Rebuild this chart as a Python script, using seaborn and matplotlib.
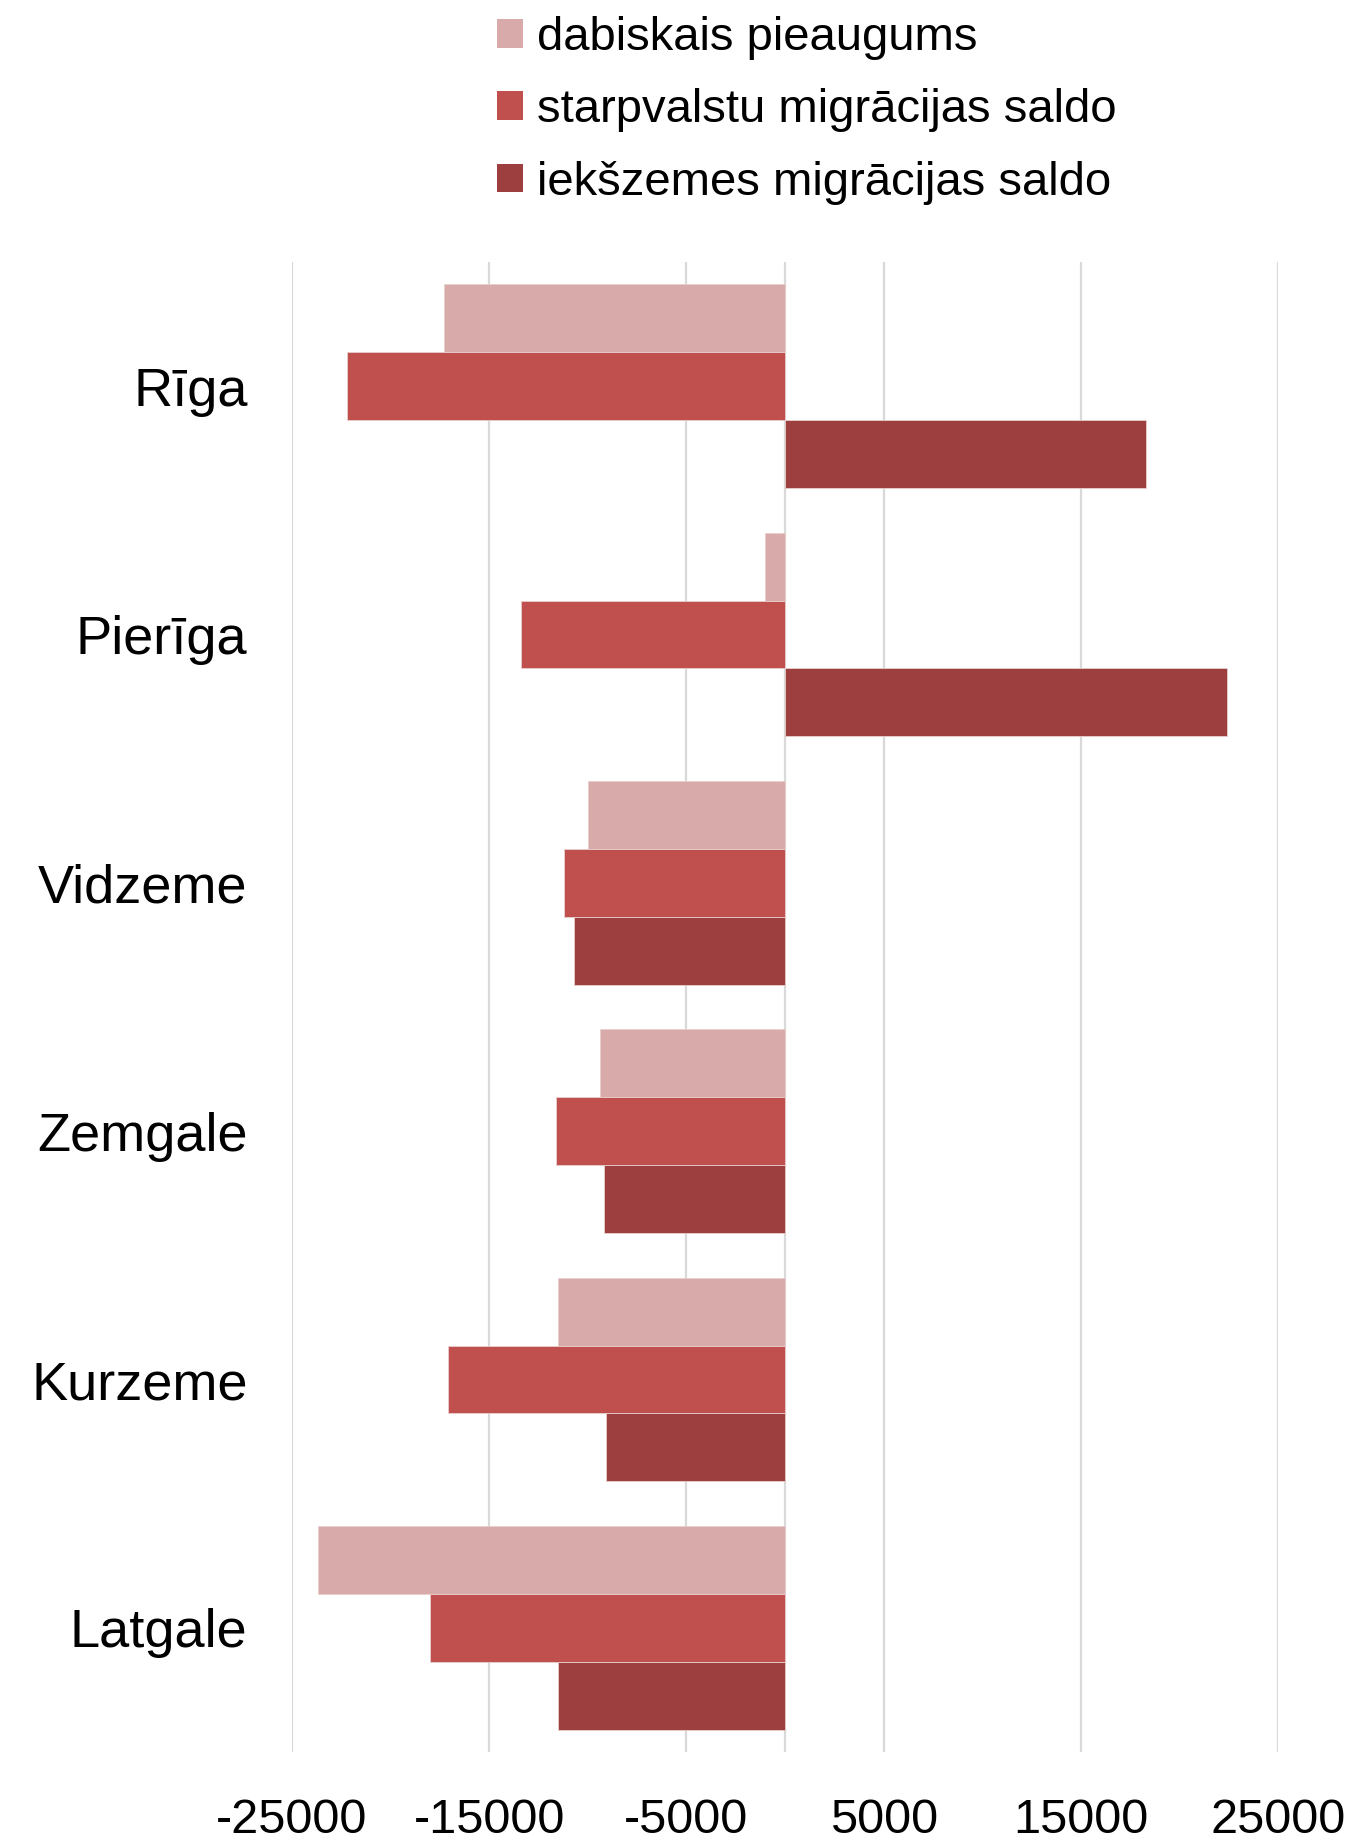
import matplotlib
matplotlib.use("Agg")
import matplotlib.pyplot as plt
import pandas as pd
import seaborn as sns
from matplotlib.patches import Patch

sns.set_theme(style="white")
plt.rcParams['font.family'] = ['Liberation Sans', 'DejaVu Sans']
plt.rcParams['axes.unicode_minus'] = False
plt.rcParams['text.color'] = 'black'
plt.rcParams['xtick.color'] = 'black'
plt.rcParams['ytick.color'] = 'black'

regions = ["Rīga", "Pierīga", "Vidzeme", "Zemgale", "Kurzeme", "Latgale"]
series = ["dabiskais pieaugums", "starpvalstu migrācijas saldo", "iekšzemes migrācijas saldo"]
dabiskais = [-17300, -1000, -10000, -9400, -11500, -23700]
starpvalstu = [-22200, -13400, -11200, -11600, -17100, -18000]
iekszemes = [18300, 22400, -10700, -9200, -9100, -11500]
xticks = [-25000, -15000, -5000, 5000, 15000, 25000]
colors = ["#D9AAAA", "#C0504D", "#9E3F3F"]

rows = []
for name, vals in zip(series, [dabiskais, starpvalstu, iekszemes]):
    for reg, v in zip(regions, vals):
        rows.append({"region": reg, "series": name, "value": v})
df = pd.DataFrame(rows)

fig = plt.figure(figsize=(13.57, 18.42), dpi=100)
ax = fig.add_axes([292 / 1357, 1 - 1752 / 1842, (1278 - 292) / 1357, (1752 - 262) / 1842])

for x in xticks + [0]:
    ax.axvline(x, color="#D9D9D9", lw=1.6, zorder=0)

sns.barplot(data=df, x="value", y="region", hue="series", order=regions,
            hue_order=series, palette=colors, orient="h", width=0.82,
            saturation=1, edgecolor="#E8CFCF", linewidth=0.6, legend=False,
            ax=ax, zorder=2)

ax.set_xlim(-25000, 25000)
ax.set_ylim(5.5, -0.5)
ax.set_xticks(xticks)
ax.set_xticklabels([str(t) for t in xticks])
ax.set_xlabel("")
ax.set_ylabel("")
ax.tick_params(axis="x", labelsize=35, length=0, pad=33)
ax.tick_params(axis="y", labelsize=39, length=0, pad=32)
for s in ax.spines.values():
    s.set_visible(False)

handles = [Patch(facecolor=c, edgecolor="none") for c in colors]
fig.legend(handles, series, loc="upper left", bbox_to_anchor=(497 / 1357, 1 - 16 / 1842),
           frameon=False, fontsize=34, handlelength=0.55, handleheight=0.55,
           handletextpad=0.3, labelspacing=0.6, borderpad=0, borderaxespad=0)

fig.savefig("out.png", dpi=100, facecolor="white")
